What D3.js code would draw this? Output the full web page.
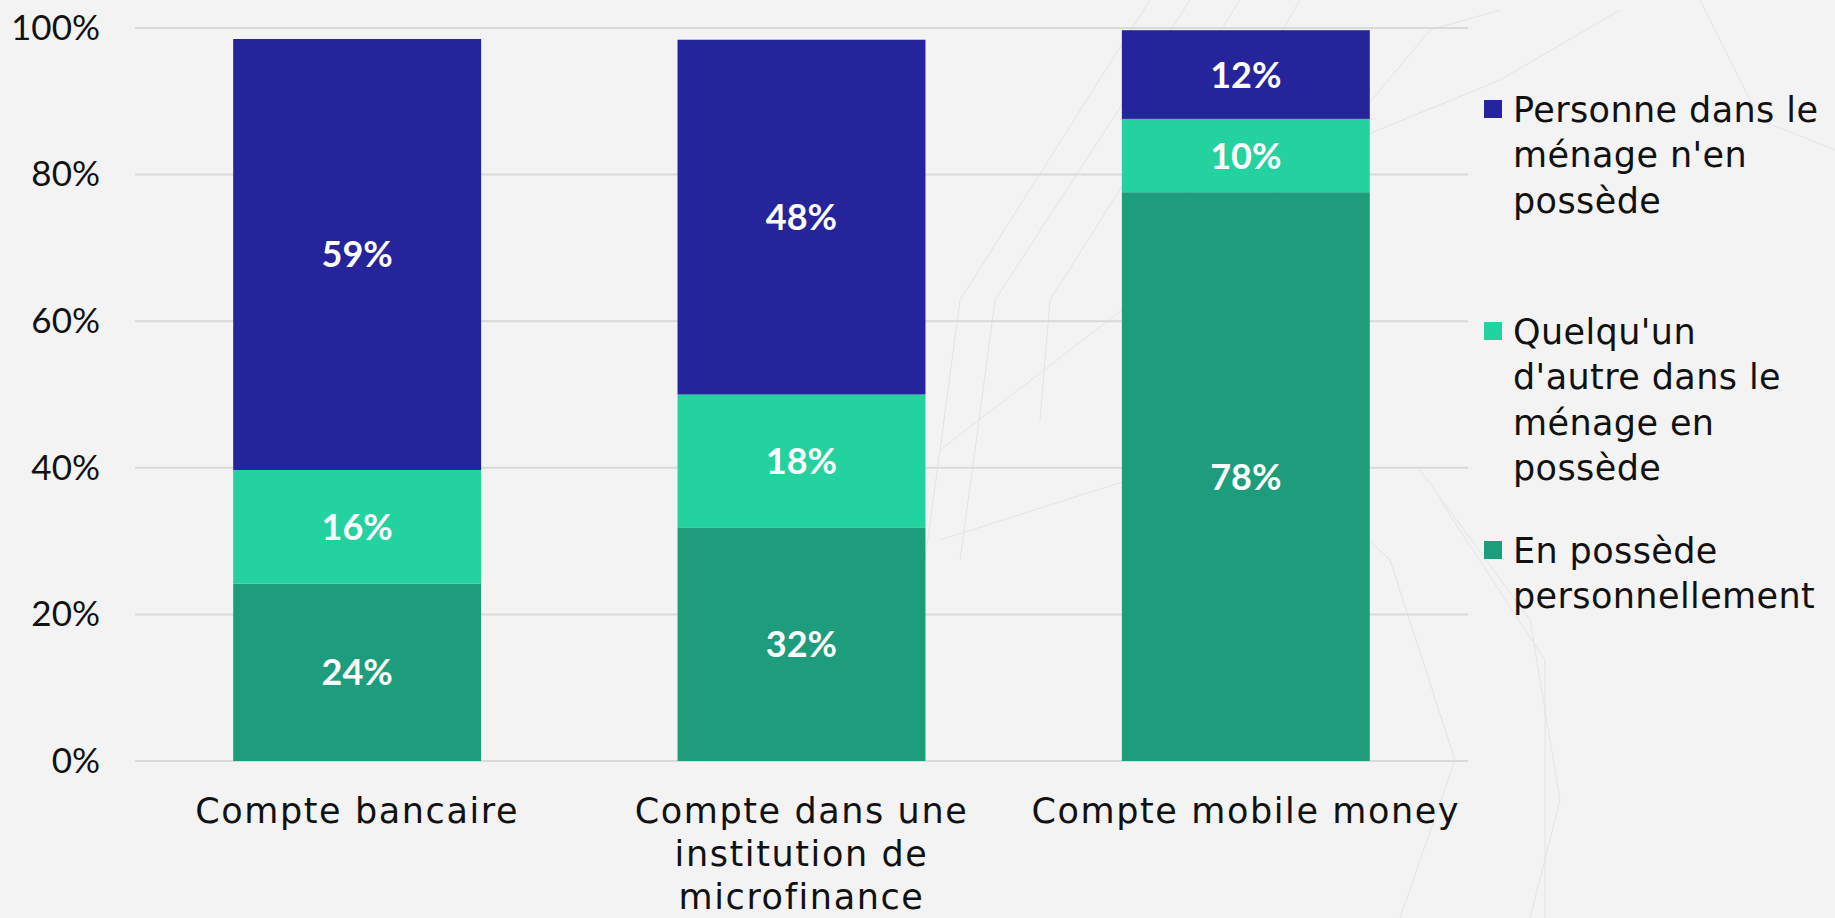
<!DOCTYPE html>
<html>
<head>
<meta charset="utf-8">
<script src="https://cdn.jsdelivr.net/npm/d3@7"></script>
<style>
  html, body { margin: 0; padding: 0; background: #f3f3f3; }
  svg { display: block; }
</style>
</head>
<body>
<div id="chart"></div>
<script>
// chart data
const categories = ["Compte bancaire", "Compte dans une institution de microfinance", "Compte mobile money"];
const categoryLines = [["Compte bancaire"], ["Compte dans une", "institution de", "microfinance"], ["Compte mobile money"]];
const seriesKeys = ["perso", "autre", "personne"];
const persoValues = [24.2, 31.8, 77.6];
const autreValues = [15.5, 18.2, 10.0];
const personneValues = [58.8, 48.4, 12.1];
const yTicks = [0, 20, 40, 60, 80, 100];
const legendLabels = [
    ["Personne dans le", "ménage n'en", "possède"],
    ["Quelqu'un", "d'autre dans le", "ménage en", "possède"],
    ["En possède", "personnellement"]
];
const legendKeys = ["personne", "autre", "perso"];

const W = 1835, H = 918;
const margin = { top: 28, right: 367, bottom: 157, left: 135 };
const colors = { perso: "#1d9d7b", autre: "#24d29f", personne: "#26249a" };

const svg = d3.select("#chart").append("svg")
    .attr("width", W)
    .attr("height", H);

svg.append("rect").attr("width", W).attr("height", H).attr("fill", "#f3f3f3");

// faint decorative background lines
const deco = [
    [[1150, 0], [960, 300], [940, 450], [925, 560]],
    [[1190, 0], [995, 300], [975, 450], [960, 560]],
    [[1240, 0], [1050, 300], [1040, 420]],
    [[1300, 0], [1150, 260], [1145, 330]],
    [[1500, 10], [1430, 30], [1330, 150], [940, 450]],
    [[1330, 150], [1500, 80], [1620, 10]],
    [[1150, 330], [1390, 560], [1455, 760], [1400, 918]],
    [[1420, 470], [1530, 620], [1560, 800], [1530, 918]],
    [[1440, 500], [1545, 660], [1545, 918]],
    [[940, 540], [1160, 470], [1330, 500]],
    [[1700, 0], [1760, 120], [1835, 150]]
];
svg.append("g").selectAll("path")
    .data(deco)
    .join("path")
    .attr("d", d3.line())
    .attr("fill", "none")
    .attr("stroke", "#e3e3e3")
    .attr("stroke-width", 1);

const width = W - margin.left - margin.right;
const height = H - margin.top - margin.bottom;

const g = svg.append("g").attr("transform", `translate(${margin.left},${margin.top})`);

const x = d3.scaleBand()
    .domain(categories)
    .range([0, width])
    .paddingInner(0.442)
    .paddingOuter(0.221);

const y = d3.scaleLinear()
    .domain([0, 100])
    .range([height, 0]);

// gridlines
g.append("g")
    .selectAll("line")
    .data(yTicks)
    .join("line")
    .attr("x1", 0)
    .attr("x2", width)
    .attr("y1", d => y(d))
    .attr("y2", d => y(d))
    .attr("stroke", "#d9d9d9")
    .attr("stroke-width", 2);

// y axis
const yAxis = g.append("g")
    .call(d3.axisLeft(y).tickValues(yTicks).tickSize(0).tickPadding(35).tickFormat(d => d + "%"));
yAxis.select(".domain").remove();
yAxis.selectAll("text")
    .attr("font-family", "Lato, sans-serif")
    .attr("font-size", 35)
    .attr("fill", "#111");

// stacked bars
const rows = categories.map((c, i) => ({
    cat: c,
    perso: persoValues[i],
    autre: autreValues[i],
    personne: personneValues[i]
}));
const stacked = d3.stack().keys(seriesKeys)(rows);

const layers = g.append("g").selectAll("g")
    .data(stacked)
    .join("g")
    .attr("fill", d => colors[d.key]);

layers.selectAll("rect")
    .data(d => d)
    .join("rect")
    .attr("x", d => x(d.data.cat))
    .attr("width", x.bandwidth())
    .attr("y", d => y(d[1]))
    .attr("height", d => y(d[0]) - y(d[1]));

layers.selectAll("text")
    .data(d => d)
    .join("text")
    .attr("x", d => x(d.data.cat) + x.bandwidth() / 2)
    .attr("y", d => y((d[0] + d[1]) / 2))
    .attr("dy", "0.36em")
    .attr("text-anchor", "middle")
    .attr("font-family", "Lato, sans-serif")
    .attr("font-weight", "bold")
    .attr("font-size", 36)
    .attr("fill", "#fff")
    .text(d => Math.round(d[1] - d[0]) + "%");

// category labels
const xLabels = g.append("g").selectAll("text")
    .data(categories)
    .join("text")
    .attr("x", d => x(d) + x.bandwidth() / 2)
    .attr("y", height + 62)
    .attr("text-anchor", "middle")
    .attr("font-family", "'DejaVu Sans', sans-serif")
    .attr("font-size", 35)
    .attr("letter-spacing", 1.6)
    .attr("fill", "#111");

xLabels.selectAll("tspan")
    .data((d, i) => categoryLines[i])
    .join("tspan")
    .attr("x", function () { return d3.select(this.parentNode).attr("x"); })
    .attr("dy", (d, i) => i === 0 ? 0 : 43)
    .text(d => d);

// legend
const legendY = [109, 331, 550];
const legend = svg.append("g").selectAll("g")
    .data(legendKeys)
    .join("g")
    .attr("transform", (d, i) => `translate(1484,${legendY[i]})`);

legend.append("rect")
    .attr("x", 0)
    .attr("y", -9)
    .attr("width", 18)
    .attr("height", 18)
    .attr("fill", d => colors[d]);

legend.append("text")
    .attr("x", 29)
    .attr("y", 0)
    .attr("dy", "0.36em")
    .attr("font-family", "'DejaVu Sans', sans-serif")
    .attr("font-size", 35)
    .attr("letter-spacing", 0.4)
    .attr("fill", "#111")
    .selectAll("tspan")
    .data((d, i) => legendLabels[i])
    .join("tspan")
    .attr("x", 29)
    .attr("dy", (d, i) => i === 0 ? "0.36em" : 45.5)
    .text(d => d);
</script>
</body>
</html>
